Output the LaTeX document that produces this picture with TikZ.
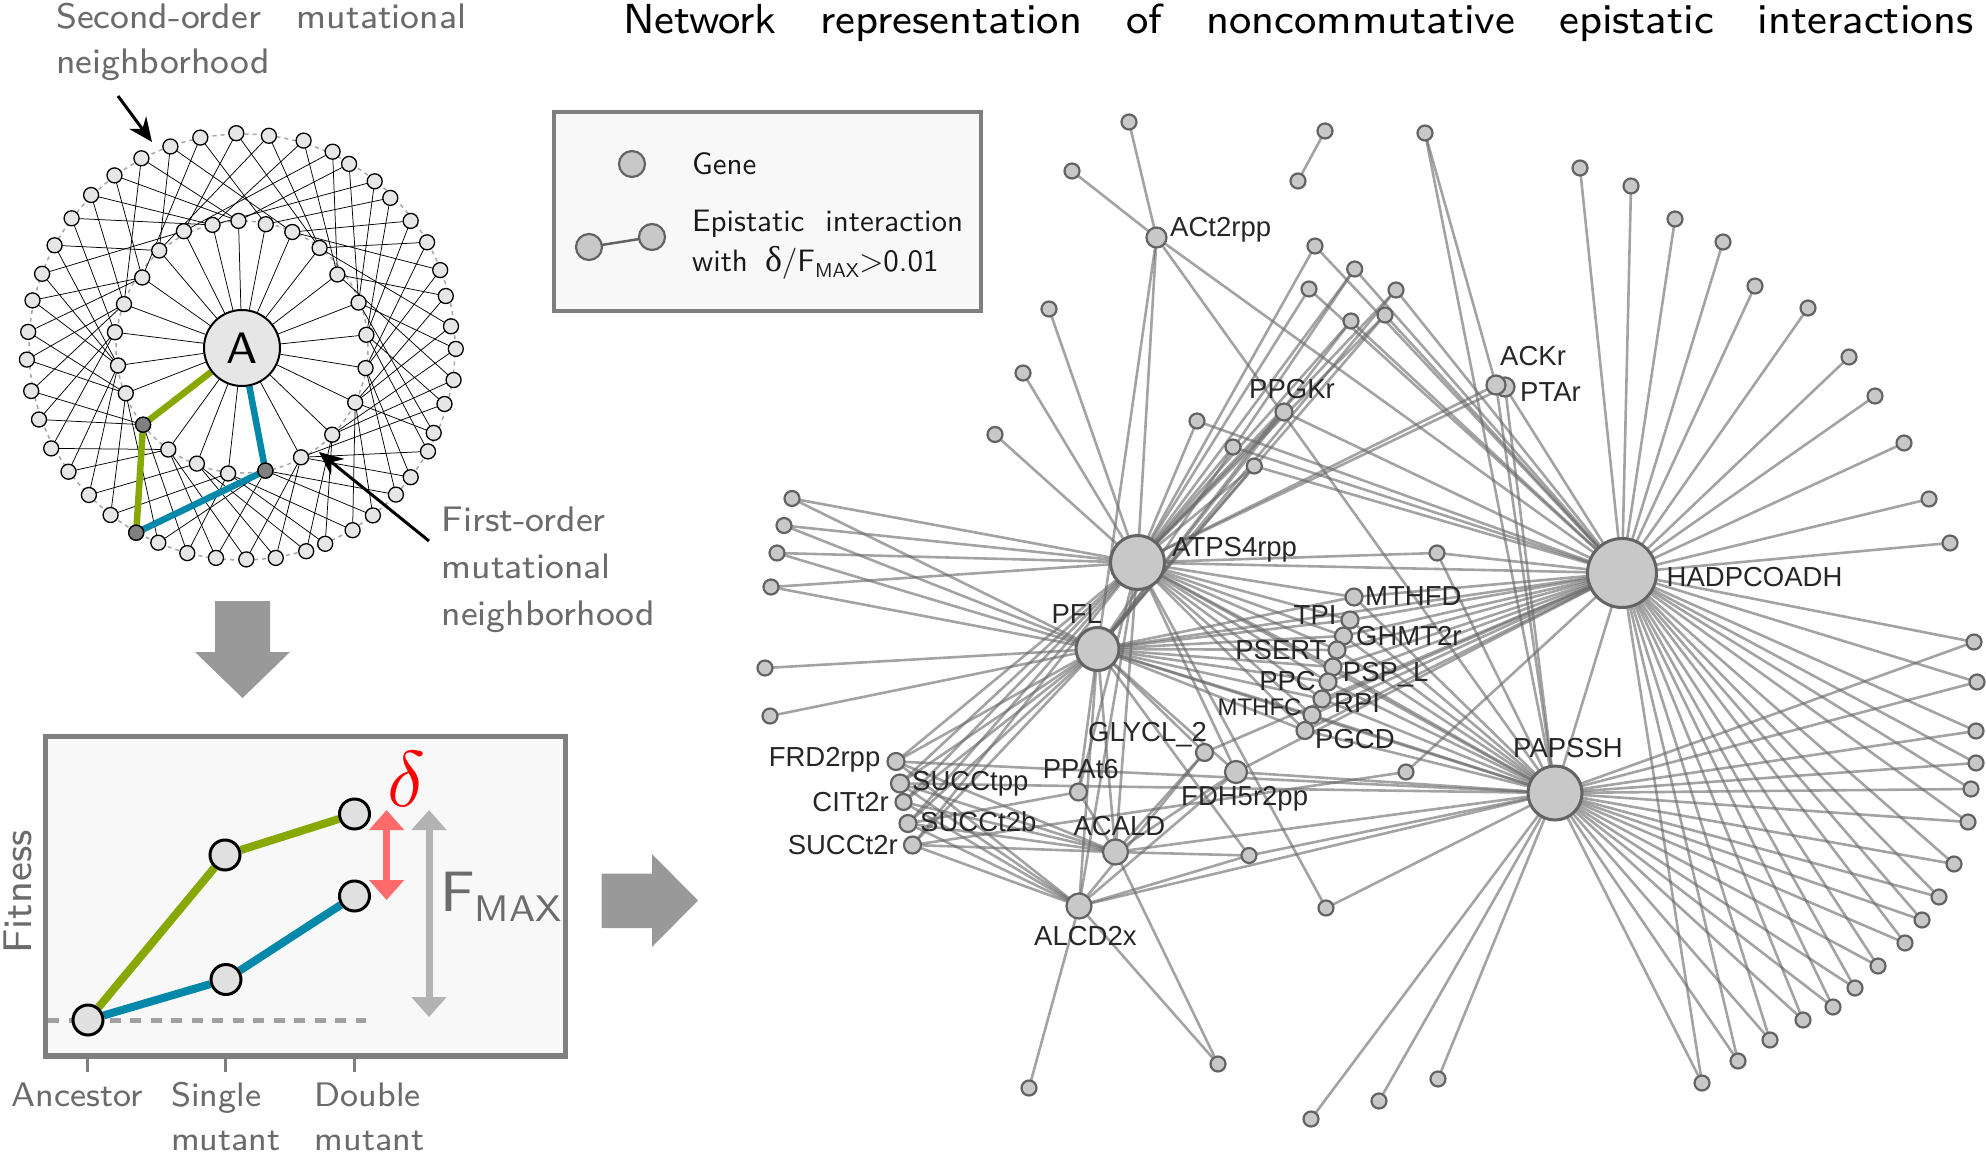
\documentclass[tikz,border=0pt]{standalone}
\usepackage{fontspec}
\newfontfamily\lmsA{lmsans8-regular.otf}
\newfontfamily\lmsB{lmsans10-regular.otf}
\newfontfamily\arialf{Liberation Sans}
\newfontfamily\serifg{Liberation Serif}
\usetikzlibrary{arrows.meta}
\pgfdeclarelayer{bg}
\pgfsetlayers{bg,main}
\definecolor{lfill}{HTML}{E6E6E6}
\definecolor{ldarkfill}{HTML}{808080}
\definecolor{gnfill}{HTML}{C8C8C8}
\definecolor{gndraw}{HTML}{636363}
\definecolor{lblcol}{HTML}{262626}
\definecolor{txtgray}{HTML}{6B6B6B}
\definecolor{boxgray}{HTML}{7F7F7F}
\definecolor{boxfill}{HTML}{F8F8F8}
\definecolor{mygreen}{HTML}{86A800}
\definecolor{myblue}{HTML}{0088AA}
\definecolor{arrgray}{HTML}{999999}
\definecolor{redarr}{HTML}{FF6B6B}
\definecolor{fmaxarr}{HTML}{B3B3B3}
\definecolor{dashgray}{HTML}{A0A0A0}
\definecolor{fnfill}{HTML}{E0E0E0}
\definecolor{ringgray}{HTML}{A6A6A6}
\tikzset{
  lnode/.style={circle, draw=black, line width=1.3pt, fill=lfill, minimum size=15pt, inner sep=0pt, outer sep=0pt},
  ldark/.style={lnode, fill=ldarkfill},
  ledge/.style={draw=black, line width=0.75pt},
  lring/.style={draw=ringgray, line width=1.5pt, dash pattern=on 4pt off 4pt},
  gn/.style={circle, draw=gndraw, line width=2.2pt, fill=gnfill, minimum size=15pt, inner sep=0pt, outer sep=0pt},
  gnr/.style={gn, minimum size=#1},
  hub/.style={gn, line width=3pt, minimum size=#1},
  netedge/.style={draw=black!60, opacity=0.6, line width=2.6pt},
  lbl/.style={font=\arialf\fontsize{27.5}{27.5}\selectfont, text=lblcol, inner sep=0pt},
  lblL/.style={lbl, anchor=base west},
  lblR/.style={lbl, anchor=base east},
  gtext/.style={text=txtgray, inner sep=0pt, anchor=base west, font=\lmsA\fontsize{35.5}{35.5}\selectfont},
  axtext/.style={text=txtgray, inner sep=0pt, anchor=base west, font=\lmsA\fontsize{34}{34}\selectfont},
  legtext/.style={text=black!90, inner sep=0pt, anchor=base west, font=\lmsB\fontsize{31}{31}\selectfont},
  fnode/.style={circle, draw=black, line width=3pt, fill=fnfill, minimum size=30pt, inner sep=0pt},
}
\begin{document}
\begin{tikzpicture}[x=1pt,y=-1pt]
\useasboundingbox (0,0) rectangle (1986,1153);

% ================= title
\node[anchor=base west, inner sep=0pt, font=\lmsA\fontsize{42}{42}\selectfont] (title) at (623,33.3)
  {\hbox to 1350pt{Network\hfill representation\hfill of\hfill noncommutative\hfill epistatic\hfill interactions}};

% ================= left texts
\node[gtext] (so1) at (56,28.9) {\hbox to 410pt{Second-order\hfill mutational}};
\node[gtext] (so2) at (56,74) {neighborhood};
\node[gtext] (fo1) at (441.5,531.6) {First-order};
\node[gtext] (fo2) at (441.5,578.5) {mutational};
\node[gtext] (fo3) at (441.5,625.5) {neighborhood};

% ================= left network
\node[circle, draw=black, line width=2pt, fill=lfill, minimum size=76pt, inner sep=0pt,
      font=\lmsA\fontsize{44}{44}\selectfont] (A) at (242,348) {A};
\foreach \x/\y [count=\i from 0] in {183.9/231.2, 212.5/224.9, 238.5/220.9, 265.8/224.2, 292.3/232,
  319.6/247.9, 337.4/274.5, 358.6/302.6, 366.4/334.8, 365.6/368.1, 355.2/402.5, 332.2/434.7,
  301/457.3, 265.4/470.6, 228.1/473.5, 196.9/463.6, 168.3/449.5, 143.1/424.7, 125.8/393.3,
  118/365.5, 114.9/332.2, 124/304.1, 142.2/277.5, 159.2/250.5}
  {\node[lnode] (in\i) at (\x,\y) {};}
\foreach \x/\y [count=\i from 0] in {141.4/158.3, 170.4/146.5, 200.3/137.6, 236.3/133.2, 268.9/135.8,
  303.6/140.6, 332.6/151.7, 349.1/163.9, 374.7/181.3, 390.3/197.9, 410.7/220.9, 427.1/242.3,
  440.2/270.1, 445.8/296, 451/326.3, 455.8/348.9, 453.6/380, 444.5/404, 433.7/432.9, 428/451.4,
  410.7/477.2, 395.9/494.6, 372.9/515.4, 352.6/530.2, 325.2/543.8, 306.2/551.2, 275.8/557.9,
  246.3/559.4, 216/557.9, 187.3/553.1, 158.3/542.7, 136.2/532.7, 110.6/515, 88.9/495, 68.5/471.7,
  51.2/448.4, 39/419.5, 31.2/391, 26.9/359.6, 28.2/331.9, 32.5/300.4, 42.1/273.8, 54.6/245.3,
  71.6/218.3, 91.1/195, 114.5/175.4}
  {\node[lnode] (on\i) at (\x,\y) {};}
\node[ldark] (dk13) at (in13) {};
\node[ldark] (dk17) at (in17) {};
\node[ldark] (dk31) at (on31) {};

\begin{pgfonlayer}{bg}
  \coordinate (ctr) at (242,347);
  \draw[lring] (ctr) circle[radius=126pt];
  \draw[lring] (ctr) circle[radius=213pt];
  \foreach \i in {0,...,23} {\draw[ledge] (A) -- (in\i);}
  \foreach \o/\a/\b in {0/21/2, 1/23/4, 2/22/3, 3/0/5, 4/23/5, 5/1/6, 6/0/6, 7/2/7, 8/1/7, 9/3/8,
    10/4/8, 11/5/9, 12/4/9, 13/6/10, 14/5/10, 15/7/11, 16/6/11, 17/8/12, 18/7/10, 19/8/12, 20/9/12,
    21/9/13, 22/10/13, 23/10/14, 24/11/14, 25/11/15, 26/12/15, 27/12/16, 28/13/16, 29/14/17,
    30/13/18, 32/14/18, 33/15/19, 34/16/19, 35/16/20, 36/17/20, 37/17/21, 38/18/21, 39/18/22,
    40/19/22, 41/19/0, 42/19/23, 43/20/1, 44/21/1, 45/22/2}
    {\draw[ledge] (on\o) -- (in\a); \draw[ledge] (on\o) -- (in\b);}
  \draw[mygreen, line width=6.5pt] (A) -- (in17);
  \draw[mygreen, line width=6.5pt] (in17) -- (on31);
  \draw[myblue, line width=6.5pt] (A) -- (in13);
  \draw[myblue, line width=6.5pt] (in13) -- (on31);
\end{pgfonlayer}

% arrows in left panel
\coordinate (soS) at (118,96); \coordinate (soE) at (152,142);
\draw[line width=3pt, -{Stealth[length=24pt, width=21pt]}] (soS) -- (soE);
\coordinate (foS) at (429,541); \coordinate (foE) at (319,452);
\draw[line width=3pt, -{Stealth[length=24pt, width=21pt]}] (foS) -- (foE);

% big gray arrows
\fill[arrgray] (215,601) -- (270,601) -- (270,652) -- (290,652) -- (242.5,698) -- (195,652) -- (215,652) -- cycle;
\fill[arrgray] (601.5,873.5) -- (652,873.5) -- (652,854) -- (698,900.5) -- (652,947) -- (652,928) -- (601.5,928) -- cycle;

% ================= fitness panel
\node[fnode] (anc) at (88,1020) {};
\node[fnode] (sg) at (225,855) {};
\node[fnode] (dg) at (354.5,814) {};
\node[fnode] (sb) at (226,979.5) {};
\node[fnode] (db) at (354.5,896) {};
\coordinate (dashS) at (48,1020); \coordinate (dashE) at (366,1020);
\begin{pgfonlayer}{bg}
  \fill[boxfill] (45.5,736.3) rectangle (565.6,1056.2);
  \draw[dashgray, line width=5pt, dash pattern=on 11pt off 9.5pt] (dashS) -- (dashE);
  \draw[mygreen, line width=8pt] (anc) -- (sg);
  \draw[mygreen, line width=8pt] (sg) -- (dg);
  \draw[myblue, line width=8pt] (anc) -- (sb);
  \draw[myblue, line width=8pt] (sb) -- (db);
\end{pgfonlayer}
\draw[boxgray, line width=5.5pt] (45.5,736.3) rectangle (565.6,1056.2);
\foreach \t in {87,225,354} {\draw[boxgray, line width=3pt] (\t,1058) -- (\t,1072);}
\coordinate (rdT) at (386.6,810); \coordinate (rdB) at (386.6,900);
\draw[redarr, line width=7pt, {Triangle[width=34pt,length=20pt]}-{Triangle[width=34pt,length=20pt]}] (rdT) -- (rdB);
\coordinate (fmT) at (429,810); \coordinate (fmB) at (429,1017);
\draw[fmaxarr, line width=7pt, {Triangle[width=34pt,length=20pt]}-{Triangle[width=34pt,length=20pt]}] (fmT) -- (fmB);
\node[anchor=base west, inner sep=0pt, text=red] (dlt) at (387,806) {\scalebox{7.9}{$\delta$}};
\node[anchor=base west, inner sep=0pt, text=txtgray, font=\lmsA\fontsize{57}{57}\selectfont] (fmax) at (440,911)
  {F{\fontsize{37}{37}\selectfont\raisebox{-10.7pt}{MAX}}};
\node[rotate=90, anchor=base, inner sep=0pt, text=txtgray, font=\lmsA\fontsize{40}{40}\selectfont] (fitl) at (31,892) {Fitness};
\node[axtext] (ax1) at (11.5,1106.3) {Ancestor};
\node[axtext] (ax2) at (171,1106.3) {Single};
\node[axtext] (ax3) at (171,1150) {mutant};
\node[axtext] (ax4) at (314.5,1106.3) {Double};
\node[axtext] (ax5) at (314.5,1150) {mutant};

% ================= legend
\fill[boxfill] (553.7,112) rectangle (980.7,311.3);
\draw[boxgray, line width=4pt] (553.7,112) rectangle (980.7,311.3);
\node[gnr=26pt] (lgGene) at (632,164) {};
\node[gnr=26pt] (lgA) at (589,247) {};
\node[gnr=26pt] (lgB) at (652,237) {};
\draw[draw=gndraw, line width=2.5pt] (lgA) -- (lgB);
\node[legtext] (lt1) at (692,175) {Gene};
\node[legtext] (lt2) at (692,231.7) {\hbox to 271pt{Epistatic\hfill interaction}};
\node[legtext] (lt3) at (692,271.7) {with\hspace{17pt}{\serifg\fontsize{36}{36}\selectfont δ}/F{\fontsize{20}{20}\selectfont\raisebox{-6pt}{MAX}}>0.01};

% ================= right network: nodes
\foreach \n/\x/\y in {L1/792/498.5, L2/784/525.5, L3/777/553, L4/771/587, L5/765/668, L6/770/716,
  UL1/1049/309, UL2/1023/373, UL3/995/434.5, T1/1072/171, T2/1129/122, Q1/1325/131, Q2/1298/181,
  U1/1315/246, U2/1354.7/269, U3/1309/289, U4/1351/321, U5/1396/290, U6/1385/315,
  M1/1197/421, M2/1233/447, M3/1254.3/466, N1/1437/553, K1/1425/133,
  R1/1580/168, R2/1631/186, R3/1675/219, R4/1723/242, R5/1755/286, R6/1808/308, R7/1849/357,
  R8/1875/396, R9/1904/443, R10/1929/499, R11/1950/543,
  S1/1974/642, S2/1977/682, S3/1976/731, S4/1976/763, S5/1971/789, S6/1968/822, S7/1954/864,
  S8/1939/897, S9/1922/920, S10/1905/943, S11/1878/966, S12/1855/988, S13/1833/1007,
  S14/1803/1020, S15/1770/1040, S16/1738/1061, S17/1702/1083,
  B1/1438/1079, B2/1379/1101, B3/1311/1119, B4/1218/1064, B5/1029/1088,
  X1/1406/772, X2/1326/908, X3/1249/855.5}
  {\node[gn] (\n) at (\x,\y) {};}
\node[gnr=20pt] (ACt) at (1156.5,237.5) {};
\node[gnr=17pt] (PPG) at (1284,412) {};
\node[gnr=19pt] (PTA) at (1505,387) {};
\node[gnr=19pt] (ACK) at (1496,385) {};
\node[gnr=17pt] (MTD) at (1354,597) {};
\node[gnr=17pt] (TPI) at (1350,620) {};
\node[gnr=17pt] (GHM) at (1343.5,636) {};
\node[gnr=17pt] (PSE) at (1337,650) {};
\node[gnr=17pt] (PSP) at (1333,667) {};
\node[gnr=17pt] (PPC) at (1328,682) {};
\node[gnr=17pt] (RPI) at (1322,699) {};
\node[gnr=17pt] (MTC) at (1312,715) {};
\node[gnr=17pt] (PGC) at (1305,730.5) {};
\node[gnr=17pt] (GLY) at (1204.5,752.5) {};
\node[gnr=22pt] (FDH) at (1236,772) {};
\node[gnr=17pt] (PPA) at (1078.5,792) {};
\node[gnr=25pt] (ACA) at (1115.5,852) {};
\node[gnr=25pt] (ALC) at (1079,906) {};
\node[gnr=17pt] (FRD) at (896,761.5) {};
\node[gnr=18pt] (SUT) at (900,783.5) {};
\node[gnr=16pt] (CIT) at (903.5,802) {};
\node[gnr=17pt] (SUB) at (908,823.5) {};
\node[gnr=17pt] (SUR) at (912.5,845) {};
\node[hub=54pt] (A4) at (1137.5,562.5) {};
\node[hub=43pt] (PF) at (1097.5,649) {};
\node[hub=69pt] (H) at (1622,573) {};
\node[hub=54pt] (P) at (1555,793) {};

% ================= right network: edges
\begin{pgfonlayer}{bg}
  \foreach \a/\b in {L1/A4, L1/PF, L2/A4, L2/PF, L3/A4, L3/PF, L4/A4, L4/PF, L5/PF, L6/PF,
    UL1/A4, UL2/A4, UL3/A4, T1/ACt, T2/ACt, ACt/A4, ACt/PF, ACt/P, ACt/H, Q1/Q2,
    U1/A4, U1/H, U2/A4, U2/PF, U2/H, U3/A4, U3/H, U4/A4, U4/PF, U4/H, U5/A4, U5/PF, U5/H,
    U6/A4, U6/PF, U6/H, PPG/A4, PPG/PF, PPG/H, M1/A4, M1/H, M2/A4, M2/H, M3/A4, M3/PF, M3/H,
    K1/ACK, K1/P, ACK/A4, ACK/P, PTA/A4, PTA/P, PTA/H, N1/A4, N1/H, N1/P,
    FRD/P, SUT/P, PPA/A4, PPA/PF, PPA/ACA, PPA/SUB, GLY/PF, GLY/ALC, GLY/ACA, GLY/H,
    FDH/A4, FDH/PF, FDH/ALC, FDH/ACA, FDH/H, FDH/P, ACA/PF, ACA/A4, ACA/X3, ACA/B4, ACA/P,
    ALC/PF, ALC/A4, ALC/B4, ALC/B5, ALC/P, ALC/X3, X1/SUR, X1/H, X2/A4, X2/P, X3/PF, X3/P,
    B1/P, B2/P, B3/P, A4/H, PF/H, A4/P, PF/P, H/P}
    {\draw[netedge] (\a) -- (\b);}
  \foreach \n in {1,...,11} {\draw[netedge] (R\n) -- (H);}
  \foreach \n in {1,...,17} {\draw[netedge] (S\n) -- (H); \draw[netedge] (S\n) -- (P);}
  \foreach \c in {MTD,TPI,GHM,PSE,PSP,PPC,RPI,MTC,PGC}
    {\foreach \h in {A4,PF,H,P} {\draw[netedge] (\c) -- (\h);}}
  \foreach \c in {FRD,SUT,CIT,SUB,SUR}
    {\foreach \h in {A4,PF,ACA,ALC} {\draw[netedge] (\c) -- (\h);}}
\end{pgfonlayer}

% ================= right network: labels
\node[lblL] (lACt) at (1170,236) {ACt2rpp};
\node[lblL] (lPPG) at (1249,398.5) {PPGKr};
\node[lblL] (lACK) at (1500,365) {ACKr};
\node[lblL] (lPTA) at (1520,401) {PTAr};
\node[lblL] (lA4) at (1172,556) {ATPS4rpp};
\node[lblL] (lH) at (1666.5,586) {HADPCOADH};
\node[lblL] (lMTD) at (1365,605) {MTHFD};
\node[lblR] (lTPI) at (1336.7,624.3) {TPI};
\node[lblL] (lGHM) at (1356,645) {GHMT2r};
\node[lblR] (lPSE) at (1326.7,659.3) {PSERT};
\node[lblL] (lPSP) at (1342.7,681.7) {PSP\_L};
\node[lblR] (lPPC) at (1316,690) {PPC};
\node[lblL] (lRPI) at (1334,712.7) {RPI};
\node[lblR, font=\arialf\fontsize{24}{24}\selectfont] (lMTC) at (1301.7,715) {MTHFC};
\node[lblL] (lPGC) at (1315,748.3) {PGCD};
\node[lblL] (lPF) at (1051.3,623) {PFL};
\node[lblR] (lFRD) at (880.5,766.5) {FRD2rpp};
\node[lblL] (lSUT) at (912,790.5) {SUCCtpp};
\node[lblR] (lCIT) at (889,811.6) {CITt2r};
\node[lblL] (lSUB) at (920,831) {SUCCt2b};
\node[lblR] (lSUR) at (898,854) {SUCCt2r};
\node[lblL] (lPPA) at (1042.6,778) {PPAt6};
\node[lblL] (lGLY) at (1088,741) {GLYCL\_2};
\node[lblL] (lFDH) at (1181,805.3) {FDH5r2pp};
\node[lblL] (lACA) at (1073.4,835.6) {ACALD};
\node[lblL] (lALC) at (1034,945.7) {ALCD2x};
\node[lblL] (lP) at (1513,757) {PAPSSH};

\end{tikzpicture}
\end{document}
